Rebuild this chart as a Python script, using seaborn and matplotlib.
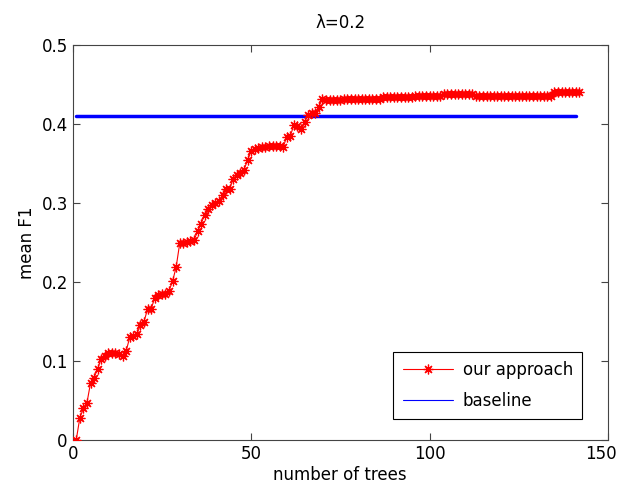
import matplotlib
matplotlib.use("Agg")
import matplotlib.pyplot as plt
import matplotlib.transforms as mtransforms
import seaborn as sns
import pandas as pd

# number of trees for "our approach"
trees = list(range(1, 143))
# mean F1 of "our approach"
f1_ours = [
    0.000, 0.028, 0.040, 0.047, 0.072, 0.079, 0.090, 0.103, 0.107, 0.110,
    0.110, 0.110, 0.109, 0.107, 0.113, 0.130, 0.132, 0.134, 0.146, 0.150,
    0.166, 0.166, 0.180, 0.184, 0.185, 0.185, 0.189, 0.201, 0.219, 0.249,
    0.250, 0.251, 0.252, 0.253, 0.264, 0.274, 0.285, 0.293, 0.298, 0.300,
    0.302, 0.310, 0.318, 0.318, 0.331, 0.336, 0.338, 0.342, 0.354, 0.366,
    0.369, 0.370, 0.371, 0.371, 0.372, 0.372, 0.372, 0.372, 0.371, 0.384,
    0.385, 0.399, 0.397, 0.394, 0.402, 0.412, 0.414, 0.414, 0.422, 0.432,
    0.431, 0.431, 0.431, 0.431, 0.431, 0.432, 0.432, 0.432, 0.432, 0.432,
    0.432, 0.432, 0.432, 0.432, 0.432, 0.432, 0.434, 0.434, 0.434, 0.434,
    0.434, 0.434, 0.434, 0.434, 0.434, 0.436, 0.436, 0.436, 0.436, 0.436,
    0.436, 0.436, 0.436, 0.438, 0.438, 0.438, 0.438, 0.438, 0.438, 0.438,
    0.438, 0.438, 0.436, 0.436, 0.436, 0.436, 0.436, 0.436, 0.436, 0.436,
    0.436, 0.436, 0.436, 0.436, 0.436, 0.436, 0.436, 0.436, 0.436, 0.436,
    0.436, 0.436, 0.436, 0.436, 0.440, 0.440, 0.440, 0.440, 0.440, 0.440,
    0.440, 0.440,
]
# baseline
baseline_x = [1, 141]
baseline_y = [0.41, 0.41]

x_ticks = [0, 50, 100, 150]
y_ticks = [0, 0.1, 0.2, 0.3, 0.4, 0.5]
y_tick_labels = ["0", "0.1", "0.2", "0.3", "0.4", "0.5"]

sns.set_style("white")
plt.rcParams["font.family"] = ["DejaVu Sans"]
plt.rcParams["font.size"] = 12
plt.rcParams["text.color"] = "black"
plt.rcParams["axes.labelcolor"] = "black"

fig = plt.figure(figsize=(6.21, 4.95), dpi=100)
ax = fig.add_axes([0.117, 0.111, 0.862, 0.798])

df_ours = pd.DataFrame({"x": trees, "y": f1_ours})
df_base = pd.DataFrame({"x": baseline_x, "y": baseline_y})

sns.lineplot(data=df_ours, x="x", y="y", ax=ax, color="red", lw=0.8,
             marker=(8, 2, 0), markersize=7, markeredgewidth=0.9,
             markeredgecolor="red", label="our approach", zorder=3)
sns.lineplot(data=df_base, x="x", y="y", ax=ax, color="blue", lw=2.5,
             label="baseline", zorder=2)

ax.set_xlim(0, 150)
ax.set_ylim(0, 0.5)
ax.set_xticks(x_ticks)
ax.set_xticklabels([str(t) for t in x_ticks])
ax.set_yticks(y_ticks)
ax.set_yticklabels(y_tick_labels)
ax.tick_params(direction="in", length=5, width=0.8, colors="#444444",
               labelcolor="black", top=True, right=True, bottom=True, left=True,
               labelsize=12)
for s in ax.spines.values():
    s.set_visible(True)
    s.set_color("#444444")
    s.set_linewidth(0.8)

# nudge the last x tick label slightly left so it stays inside the figure
last = ax.get_xticklabels()[-1]
last.set_transform(last.get_transform() +
                   mtransforms.ScaledTranslation(-5 / 72, 0, fig.dpi_scale_trans))

ax.set_xlabel("number of trees", fontsize=12, labelpad=2, color="black")
ax.set_ylabel("mean F1", fontsize=12, labelpad=4, color="black")
ax.set_title("λ=0.2", fontsize=12, pad=12, color="black")

leg = ax.legend(loc="lower right", bbox_to_anchor=(0.967, 0.033),
                frameon=True, fancybox=False, framealpha=1,
                edgecolor="black", fontsize=12, handlelength=3.0,
                borderpad=0.55, labelspacing=0.75, handletextpad=0.6)
leg.get_frame().set_linewidth(0.8)
for h in leg.get_lines():
    h.set_linewidth(0.8)
for t in leg.get_texts():
    t.set_color("black")

fig.savefig("out.png", dpi=100)
